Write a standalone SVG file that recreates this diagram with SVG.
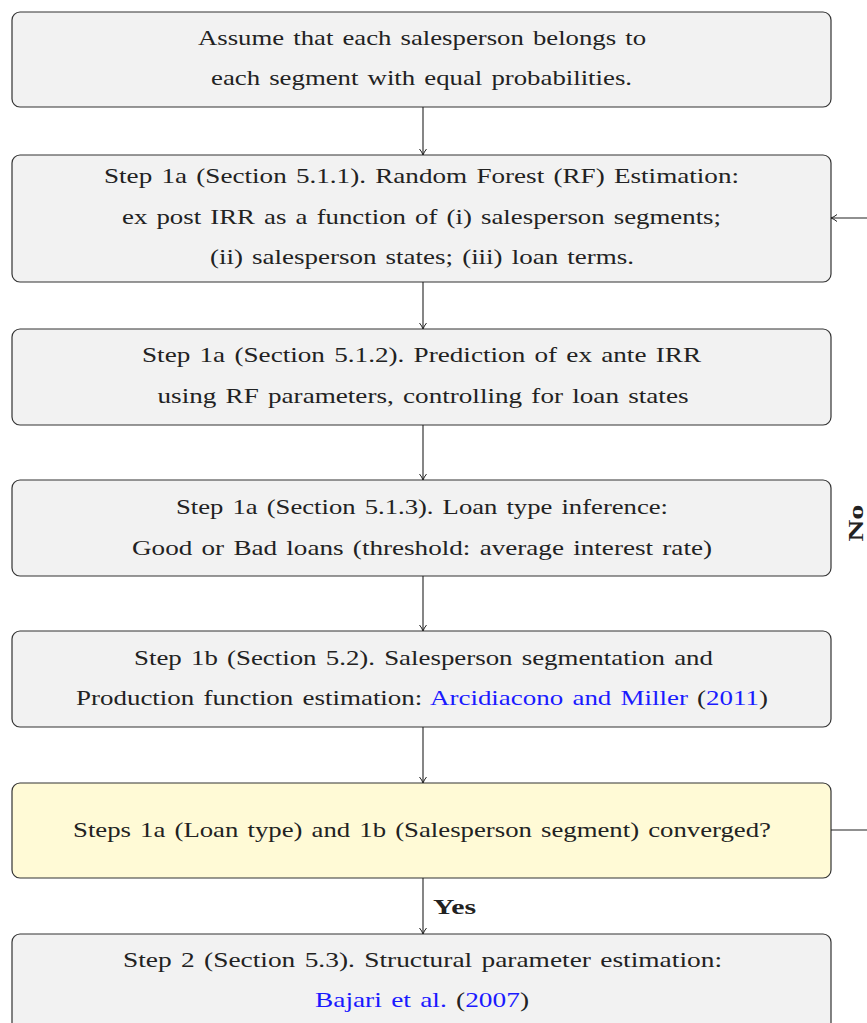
<svg xmlns="http://www.w3.org/2000/svg" width="867" height="1023" viewBox="0 0 867 1023">
<style>
.box{fill:#f2f2f2;stroke:#333;stroke-width:1.2}
.q{fill:#fffad6;stroke:#333;stroke-width:1.2}
text{font-family:"Liberation Serif","DejaVu Serif",serif;font-size:22px;fill:#222;text-anchor:middle;word-spacing:2px}
.lk{fill:#1a1aff}
.b{font-weight:bold;word-spacing:0}
.c{stroke:#222;stroke-width:1.1;fill:none}
</style>
<defs>
<marker id="a" markerWidth="10" markerHeight="10" refX="8" refY="5" orient="auto" markerUnits="userSpaceOnUse">
<path d="M2,1.5 Q5,4 8,5 Q5,6 2,8.5" fill="none" stroke="#222" stroke-width="1"/>
</marker>
</defs>
<g id="n1"><rect class="box" x="12" y="12" width="819" height="95" rx="8"/>
<text x="422" y="45" textLength="448" lengthAdjust="spacingAndGlyphs">Assume that each salesperson belongs to</text>
<text x="421.5" y="85" textLength="421" lengthAdjust="spacingAndGlyphs">each segment with equal probabilities.</text></g>
<g id="n2"><rect class="box" x="12" y="155" width="819" height="127" rx="8"/>
<text x="421.5" y="183" textLength="635" lengthAdjust="spacingAndGlyphs">Step 1a (Section 5.1.1). Random Forest (RF) Estimation:</text>
<text x="421.5" y="224" textLength="599" lengthAdjust="spacingAndGlyphs">ex post IRR as a function of (i) salesperson segments;</text>
<text x="422" y="264" textLength="424" lengthAdjust="spacingAndGlyphs">(ii) salesperson states; (iii) loan terms.</text></g>
<g id="n3"><rect class="box" x="12" y="329" width="819" height="96" rx="8"/>
<text x="421.5" y="362" textLength="559" lengthAdjust="spacingAndGlyphs">Step 1a (Section 5.1.2). Prediction of ex ante IRR</text>
<text x="423" y="403" textLength="531" lengthAdjust="spacingAndGlyphs">using RF parameters, controlling for loan states</text></g>
<g id="n4"><rect class="box" x="12" y="480" width="819" height="96" rx="8"/>
<text x="422" y="514" textLength="492" lengthAdjust="spacingAndGlyphs">Step 1a (Section 5.1.3). Loan type inference:</text>
<text x="422" y="555" textLength="580" lengthAdjust="spacingAndGlyphs">Good or Bad loans (threshold: average interest rate)</text></g>
<g id="n5"><rect class="box" x="12" y="631" width="819" height="96" rx="8"/>
<text x="423.5" y="665" textLength="579" lengthAdjust="spacingAndGlyphs">Step 1b (Section 5.2). Salesperson segmentation and</text>
<text x="422" y="705" textLength="692" lengthAdjust="spacingAndGlyphs">Production function estimation: <tspan class="lk">Arcidiacono and Miller</tspan> (<tspan class="lk">2011</tspan>)</text></g>
<g id="n6"><rect class="q" x="12" y="783" width="819" height="95" rx="8"/>
<text x="422" y="837" textLength="698" lengthAdjust="spacingAndGlyphs">Steps 1a (Loan type) and 1b (Salesperson segment) converged?</text></g>
<g id="n7"><rect class="box" x="12" y="934" width="819" height="110" rx="8"/>
<text x="422.5" y="967" textLength="599" lengthAdjust="spacingAndGlyphs">Step 2 (Section 5.3). Structural parameter estimation:</text>
<text x="422" y="1007" textLength="214" lengthAdjust="spacingAndGlyphs"><tspan class="lk">Bajari et al.</tspan> (<tspan class="lk">2007</tspan>)</text></g>
<g id="connectors">
<line class="c" x1="423" y1="107" x2="423" y2="155" marker-end="url(#a)"/>
<line class="c" x1="423" y1="282" x2="423" y2="329" marker-end="url(#a)"/>
<line class="c" x1="423" y1="425" x2="423" y2="480" marker-end="url(#a)"/>
<line class="c" x1="423" y1="576" x2="423" y2="631" marker-end="url(#a)"/>
<line class="c" x1="423" y1="727" x2="423" y2="783" marker-end="url(#a)"/>
<line class="c" x1="423" y1="878" x2="423" y2="934" marker-end="url(#a)"/>
<polyline class="c" points="831,830 880,830 880,218 831,218" marker-end="url(#a)"/>
<text class="b" x="454.5" y="914" textLength="43" lengthAdjust="spacingAndGlyphs">Yes</text>
<text class="b" x="0" y="0" transform="translate(863,523) rotate(-90)" textLength="37" lengthAdjust="spacingAndGlyphs">No</text>
</g>
</svg>
